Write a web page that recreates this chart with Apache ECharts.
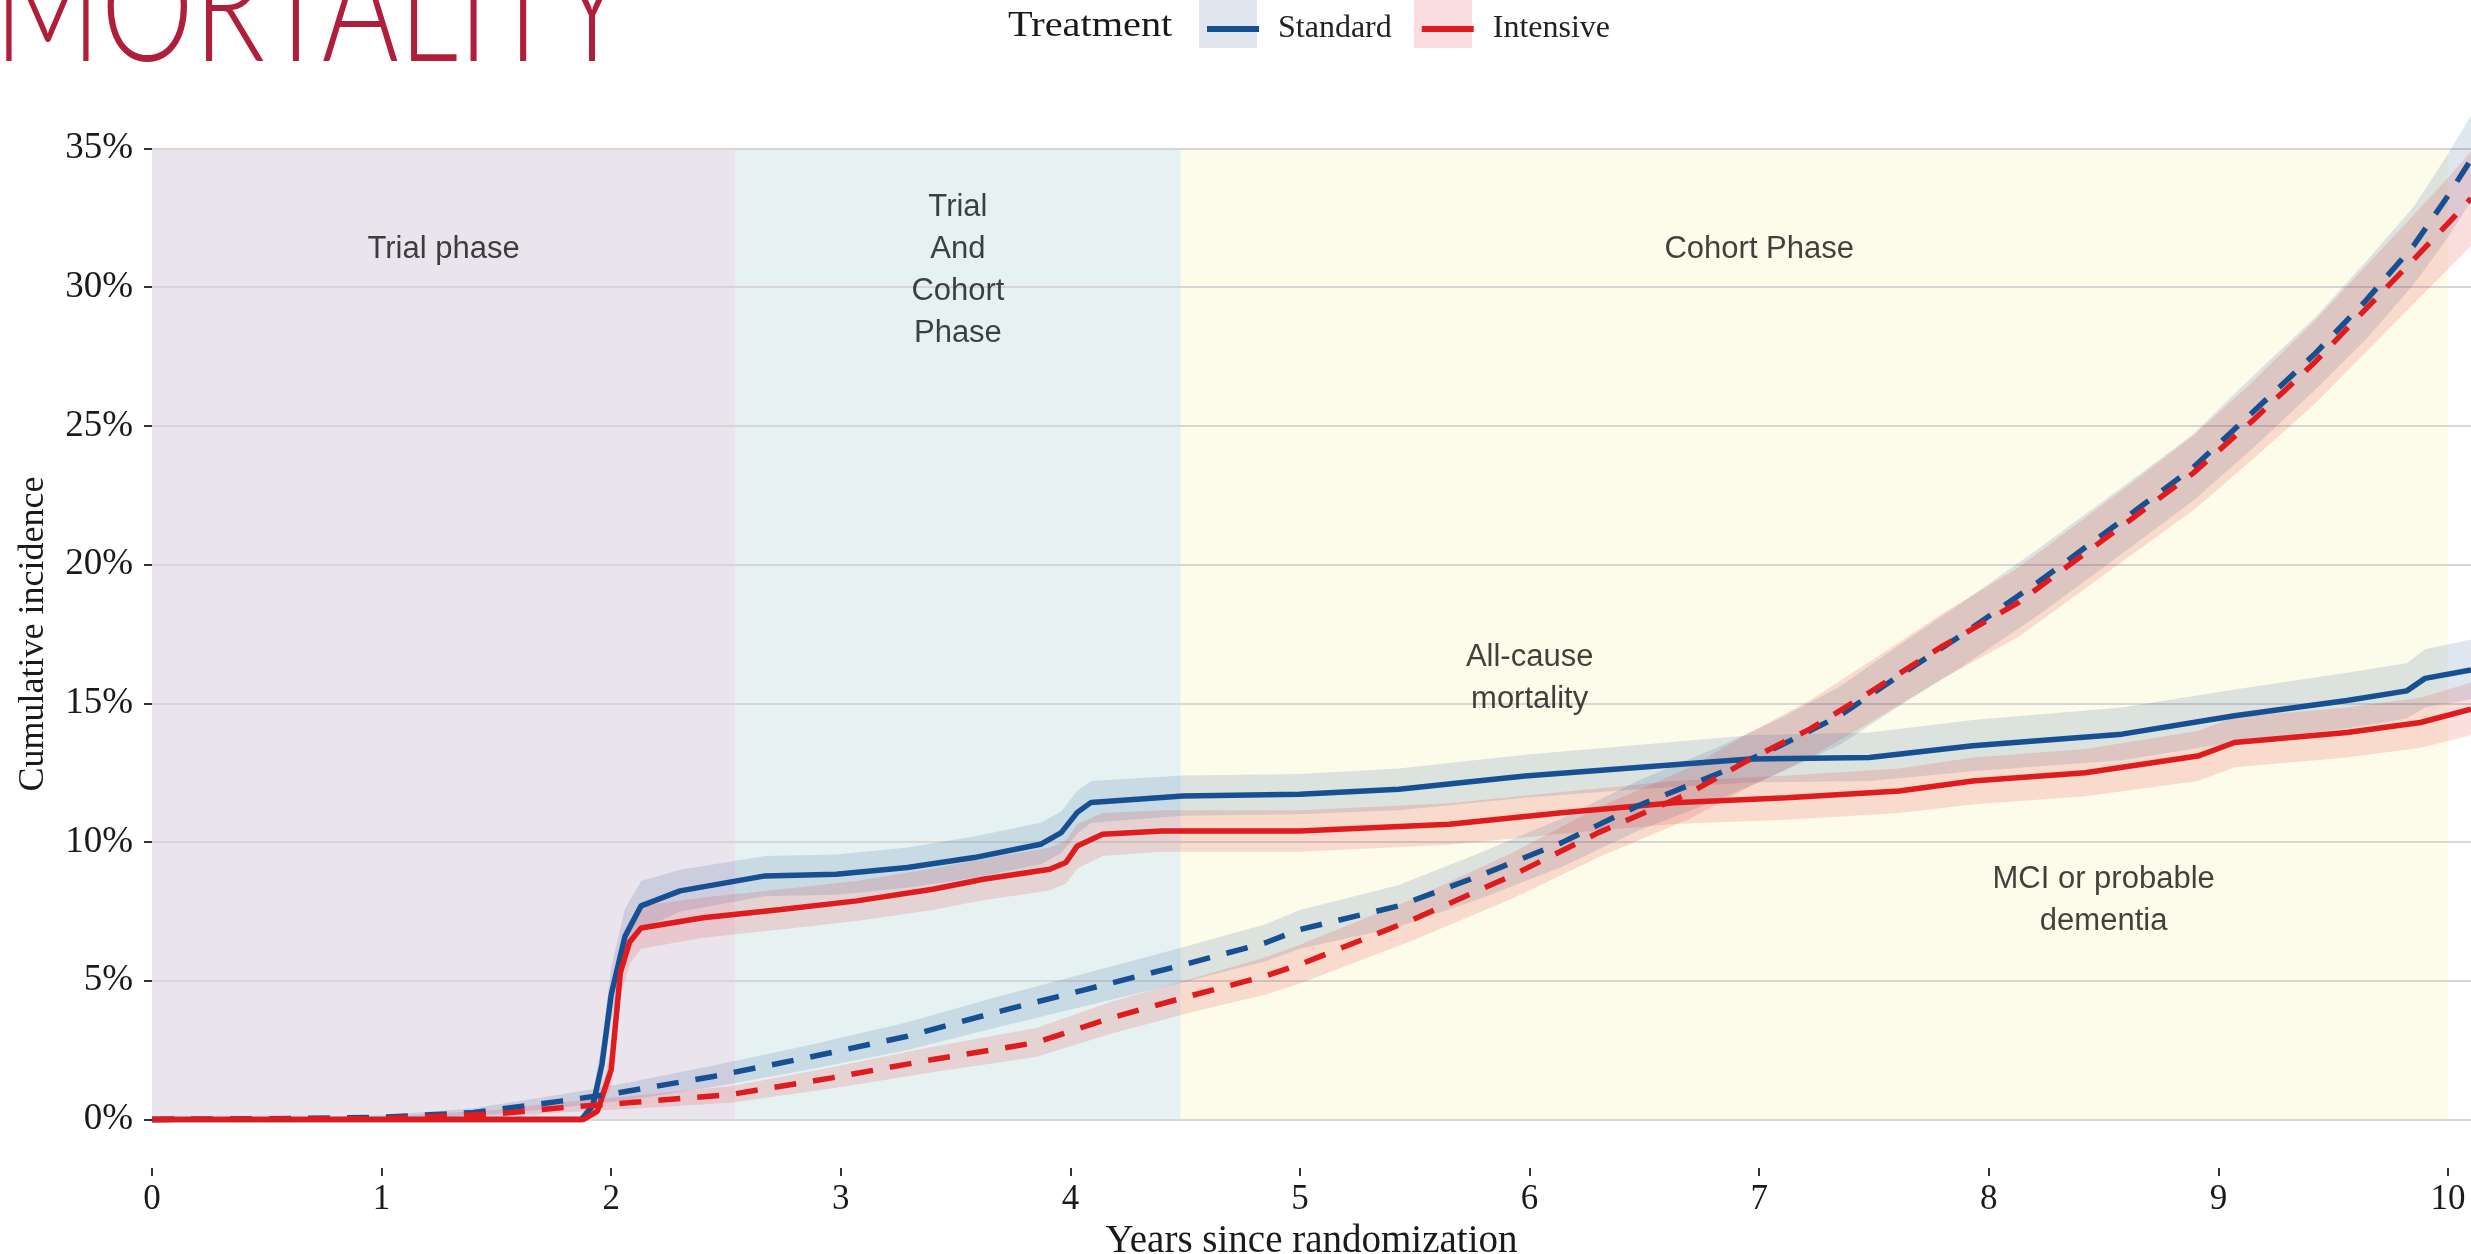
<!DOCTYPE html>
<html>
<head>
<meta charset="utf-8">
<title>Cumulative incidence by treatment</title>
<script src="https://cdn.jsdelivr.net/npm/echarts@6/dist/echarts.min.js"></script>
<style>
    html, body {margin: 0; padding: 0; background: #fff;}
    #main {width: 2471px; height: 1254px;}
</style>
</head>
<body>
<div id="main"></div>
<script>
// axis ticks
var xTicks = [0, 1, 2, 3, 4, 5, 6, 7, 8, 9, 10];
var yTicks = [0, 5, 10, 15, 20, 25, 30, 35];

// study phases (years) and their labels
var phaseBreaks = [0, 2.54, 4.48, 10];
var phaseNames = ['Trial phase', 'Trial\nAnd\nCohort\nPhase', 'Cohort Phase'];
var phaseLabelX = [1.27, 3.51, 7.0];
var phaseLabelY = [31.35, 30.6, 31.35];

// outcome labels
var noteNames = ['All-cause\nmortality', 'MCI or probable\ndementia'];
var noteX = [6.0, 8.5];
var noteY = [15.88, 7.88];

// solid lines: standard
var stdSolidT  = [0, 1.87, 1.92, 1.96, 2.0, 2.06, 2.13, 2.3, 2.67, 2.98, 3.29, 3.58, 3.87, 3.96, 4.03, 4.09, 4.49, 5.0, 5.43, 5.98, 6.47, 6.96, 7.48, 7.93, 8.58, 9.07, 9.56, 9.82, 9.9, 10.1];
var stdSolidV  = [0, 0, 0.5, 2.0, 4.5, 6.6, 7.7, 8.24, 8.78, 8.84, 9.08, 9.44, 9.92, 10.34, 11.07, 11.43, 11.66, 11.72, 11.9, 12.38, 12.69, 12.99, 13.05, 13.47, 13.89, 14.55, 15.1, 15.45, 15.9, 16.2];
var stdSolidLo = [0, 0, 0.15, 1.3, 3.6, 5.7, 6.85, 7.5, 8.05, 8.1, 8.35, 8.7, 9.2, 9.6, 10.3, 10.7, 10.95, 11.0, 11.15, 11.6, 11.9, 12.15, 12.2, 12.55, 12.95, 13.6, 14.1, 14.45, 14.85, 15.15];
var stdSolidHi = [0.05, 0.1, 0.9, 2.8, 5.5, 7.6, 8.6, 9.0, 9.5, 9.55, 9.8, 10.2, 10.7, 11.1, 11.85, 12.2, 12.4, 12.45, 12.65, 13.15, 13.5, 13.85, 13.95, 14.4, 14.85, 15.5, 16.1, 16.45, 16.95, 17.3];

// solid lines: intensive
var intSolidT  = [0, 1.88, 1.94, 2.0, 2.04, 2.08, 2.13, 2.4, 2.74, 3.07, 3.4, 3.62, 3.91, 3.98, 4.03, 4.14, 4.4, 5.0, 5.65, 6.14, 6.63, 7.12, 7.61, 7.93, 8.42, 8.91, 9.07, 9.56, 9.88, 10.1];
var intSolidV  = [0, 0, 0.3, 1.8, 5.3, 6.4, 6.9, 7.27, 7.57, 7.88, 8.3, 8.66, 9.02, 9.26, 9.86, 10.28, 10.4, 10.4, 10.64, 11.06, 11.42, 11.6, 11.84, 12.2, 12.5, 13.1, 13.59, 13.95, 14.31, 14.79];
var intSolidLo = [0, 0, 0.1, 1.2, 4.4, 5.6, 6.15, 6.55, 6.85, 7.15, 7.55, 7.9, 8.25, 8.5, 9.05, 9.5, 9.65, 9.65, 9.9, 10.3, 10.65, 10.8, 11.05, 11.35, 11.65, 12.2, 12.7, 13.05, 13.4, 13.85];
var intSolidHi = [0.05, 0.1, 0.6, 2.5, 6.2, 7.2, 7.7, 8.0, 8.3, 8.6, 9.05, 9.4, 9.8, 10.05, 10.65, 11.05, 11.15, 11.15, 11.4, 11.8, 12.2, 12.4, 12.65, 13.05, 13.35, 14.0, 14.5, 14.85, 15.2, 15.75];

// dashed lines: standard
var stdDashT  = [0, 0.5, 1.0, 1.4, 1.78, 2.03, 2.45, 2.85, 3.29, 3.67, 4.07, 4.47, 4.85, 5.0, 5.43, 5.78, 6.14, 6.47, 6.83, 7.09, 7.35, 7.61, 7.87, 8.22, 8.63, 8.89, 9.15, 9.42, 9.64, 9.85, 10.0, 10.1];
var stdDashV  = [0, 0.02, 0.08, 0.25, 0.66, 0.96, 1.56, 2.22, 3.0, 3.85, 4.69, 5.53, 6.37, 6.85, 7.7, 8.78, 9.98, 11.3, 12.5, 13.47, 14.55, 16.0, 17.4, 19.4, 21.9, 23.5, 25.5, 27.6, 29.5, 31.5, 33.3, 34.6];
var stdDashLo = [0, 0, 0.02, 0.12, 0.42, 0.66, 1.18, 1.78, 2.5, 3.3, 4.1, 4.9, 5.7, 6.15, 6.95, 7.95, 9.1, 10.4, 11.55, 12.5, 13.5, 14.9, 16.25, 18.2, 20.7, 22.3, 24.2, 26.3, 28.1, 30.1, 31.8, 33.1];
var stdDashHi = [0.02, 0.05, 0.15, 0.4, 0.9, 1.26, 1.95, 2.66, 3.5, 4.4, 5.28, 6.16, 7.04, 7.55, 8.45, 9.6, 10.85, 12.2, 13.45, 14.45, 15.6, 17.1, 18.55, 20.6, 23.1, 24.7, 26.8, 28.9, 30.9, 32.9, 34.8, 36.2];

// dashed lines: intensive
var intDashT  = [0, 1.0, 1.5, 1.78, 2.07, 2.52, 2.96, 3.4, 3.85, 4.18, 4.52, 4.85, 5.0, 5.49, 5.92, 6.3, 6.7, 6.96, 7.22, 7.48, 7.8, 8.13, 8.63, 8.89, 9.15, 9.42, 9.64, 9.85, 10.0, 10.1];
var intDashV  = [0, 0.03, 0.2, 0.42, 0.6, 0.9, 1.5, 2.16, 2.77, 3.67, 4.45, 5.17, 5.59, 7.2, 8.78, 10.34, 11.78, 12.99, 14.07, 15.39, 17.07, 18.64, 21.7, 23.3, 25.2, 27.3, 29.2, 31.0, 32.3, 33.2];
var intDashLo = [0, 0, 0.08, 0.25, 0.38, 0.6, 1.12, 1.7, 2.25, 3.1, 3.85, 4.5, 4.9, 6.45, 7.95, 9.45, 10.85, 12.0, 13.05, 14.3, 15.9, 17.4, 20.4, 21.95, 23.8, 25.8, 27.65, 29.4, 30.65, 31.5];
var intDashHi = [0.02, 0.08, 0.35, 0.62, 0.84, 1.2, 1.88, 2.62, 3.3, 4.25, 5.05, 5.85, 6.3, 7.95, 9.6, 11.25, 12.7, 13.95, 15.1, 16.5, 18.25, 19.9, 23.0, 24.65, 26.6, 28.8, 30.75, 32.6, 33.95, 34.9];

var blue = '#174f93';
var red = '#e01b1e';
var serif = 'Liberation Serif';
var sans = 'Liberation Sans';

function pairs(t, v) {
    return t.map(function (x, i) { return [x, v[i]]; });
}

// confidence ribbon drawn as one polygon through the axis scales
function ribbon(name, t, lo, hi, color) {
    return {
        name: name, type: 'custom', silent: true, z: 2, clip: false,
        data: t.map(function (x, i) { return [x, lo[i], hi[i]]; }),
        encode: {x: 0, y: [1, 2]},
        itemStyle: {color: color},
        renderItem: function (params, api) {
            if (params.dataIndexInside !== 0) return null;
            var n = params.dataInsideLength;
            var upper = [], lower = [];
            for (var k = 0; k < n; k++) {
                upper.push(api.coord([api.value(0, k), api.value(2, k)]));
                lower.push(api.coord([api.value(0, k), api.value(1, k)]));
            }
            return {
                type: 'polygon',
                shape: {points: upper.concat(lower.reverse())},
                style: {fill: color, opacity: 0.14}
            };
        }
    };
}

function curve(name, t, v, color, dash) {
    return {
        name: name, type: 'line', data: pairs(t, v), symbol: 'none', clip: false, z: 4,
        itemStyle: {color: color},
        lineStyle: {color: color, width: 5.5, type: dash ? [22, 17] : 'solid', cap: 'butt'}
    };
}

var bandColors = ['rgba(171,147,179,0.25)', 'rgba(155,203,203,0.25)', 'rgba(247,239,171,0.25)'];
var phaseAreas = [];
for (var i = 0; i < phaseNames.length; i++) {
    phaseAreas.push([
        {xAxis: phaseBreaks[i], yAxis: 0, itemStyle: {color: bandColors[i]}},
        {xAxis: phaseBreaks[i + 1], yAxis: 35}
    ]);
}

var textData = [];
for (var i = 0; i < phaseNames.length; i++) {
    textData.push({name: phaseNames[i], value: [phaseLabelX[i], phaseLabelY[i]]});
}
for (var i = 0; i < noteNames.length; i++) {
    textData.push({name: noteNames[i], value: [noteX[i], noteY[i]]});
}

var series = [
    curve('Standard', stdSolidT, stdSolidV, blue, false),
    curve('Intensive', intSolidT, intSolidV, red, false),
    curve('Standard', stdDashT, stdDashV, blue, true),
    curve('Intensive', intDashT, intDashV, red, true),
    ribbon('Standard', stdSolidT, stdSolidLo, stdSolidHi, blue),
    ribbon('Intensive', intSolidT, intSolidLo, intSolidHi, red),
    ribbon('Standard', stdDashT, stdDashLo, stdDashHi, blue),
    ribbon('Intensive', intDashT, intDashLo, intDashHi, red)
];

series.push({
    name: 'notes', type: 'scatter', data: textData, symbolSize: 0, silent: true, z: 1,
    label: {
        show: true, position: 'inside', formatter: '{b}',
        fontFamily: sans, fontSize: 31, lineHeight: 42, color: '#111'
    },
    markArea: {silent: true, z: 0, data: phaseAreas},
    markLine: {
        silent: true, z: 1, symbol: ['none', 'none'], label: {show: false},
        lineStyle: {color: '#d6d6d6', width: 2, type: 'solid'},
        data: yTicks.map(function (v) { return {yAxis: v}; })
    }
});

var chart = echarts.init(document.getElementById('main'));
var option = {
    animation: false,
    backgroundColor: '#fff',
    grid: {left: 152, right: 0, top: 100, bottom: 86, outerBoundsMode: 'none'},
    legend: {
        data: ['Standard', 'Intensive'],
        left: 1202, top: 8, icon: 'rect',
        itemWidth: 52, itemHeight: 6, itemGap: 30,
        textStyle: {fontFamily: serif, fontSize: 32, color: '#222', padding: [0, 0, 0, 14]}
    },
    graphic: [
        {type: 'rect', z: -1, shape: {x: 1199, y: -2, width: 58, height: 50}, style: {fill: '#dfe6ef'}},
        {type: 'rect', z: -1, shape: {x: 1414, y: -2, width: 58, height: 50}, style: {fill: '#fbdfe0'}},
        {type: 'text', x: 1008, y: 27, scaleX: 1.12, style: {text: 'Treatment', font: '36px "Liberation Serif"', fill: '#1a1a1a', verticalAlign: 'middle'}},
        {type: 'text', x: -6, y: 89, scaleX: 0.98, scaleY: 1.3, style: {text: 'MORTALITY', font: '300 120px Lato', fill: '#b01f3a', verticalAlign: 'bottom'}}
    ],
    xAxis: {
        type: 'value', min: 0, max: 10.1,
        name: 'Years since randomization', nameLocation: 'middle', nameGap: 50,
        nameTextStyle: {fontFamily: serif, fontSize: 39, color: '#1a1a1a'},
        axisLine: {show: false, onZero: false},
        axisTick: {show: true, length: 8, customValues: xTicks, lineStyle: {color: '#333', width: 2}},
        axisLabel: {margin: 14, fontFamily: serif, fontSize: 35, color: '#1a1a1a', customValues: xTicks},
        splitLine: {show: false}
    },
    yAxis: {
        type: 'value', min: -1.75, max: 36.75,
        name: 'Cumulative incidence', nameLocation: 'middle', nameGap: 100,
        nameTextStyle: {fontFamily: serif, fontSize: 36, color: '#1a1a1a'},
        axisLine: {show: false, onZero: false},
        axisTick: {show: true, length: 8, customValues: yTicks, lineStyle: {color: '#333', width: 2}},
        axisLabel: {
            margin: 19, fontFamily: serif, fontSize: 37, color: '#1a1a1a', customValues: yTicks,
            formatter: '{value}%'
        },
        splitLine: {show: false}
    },
    series: series
};
chart.setOption(option);
</script>
</body>
</html>
